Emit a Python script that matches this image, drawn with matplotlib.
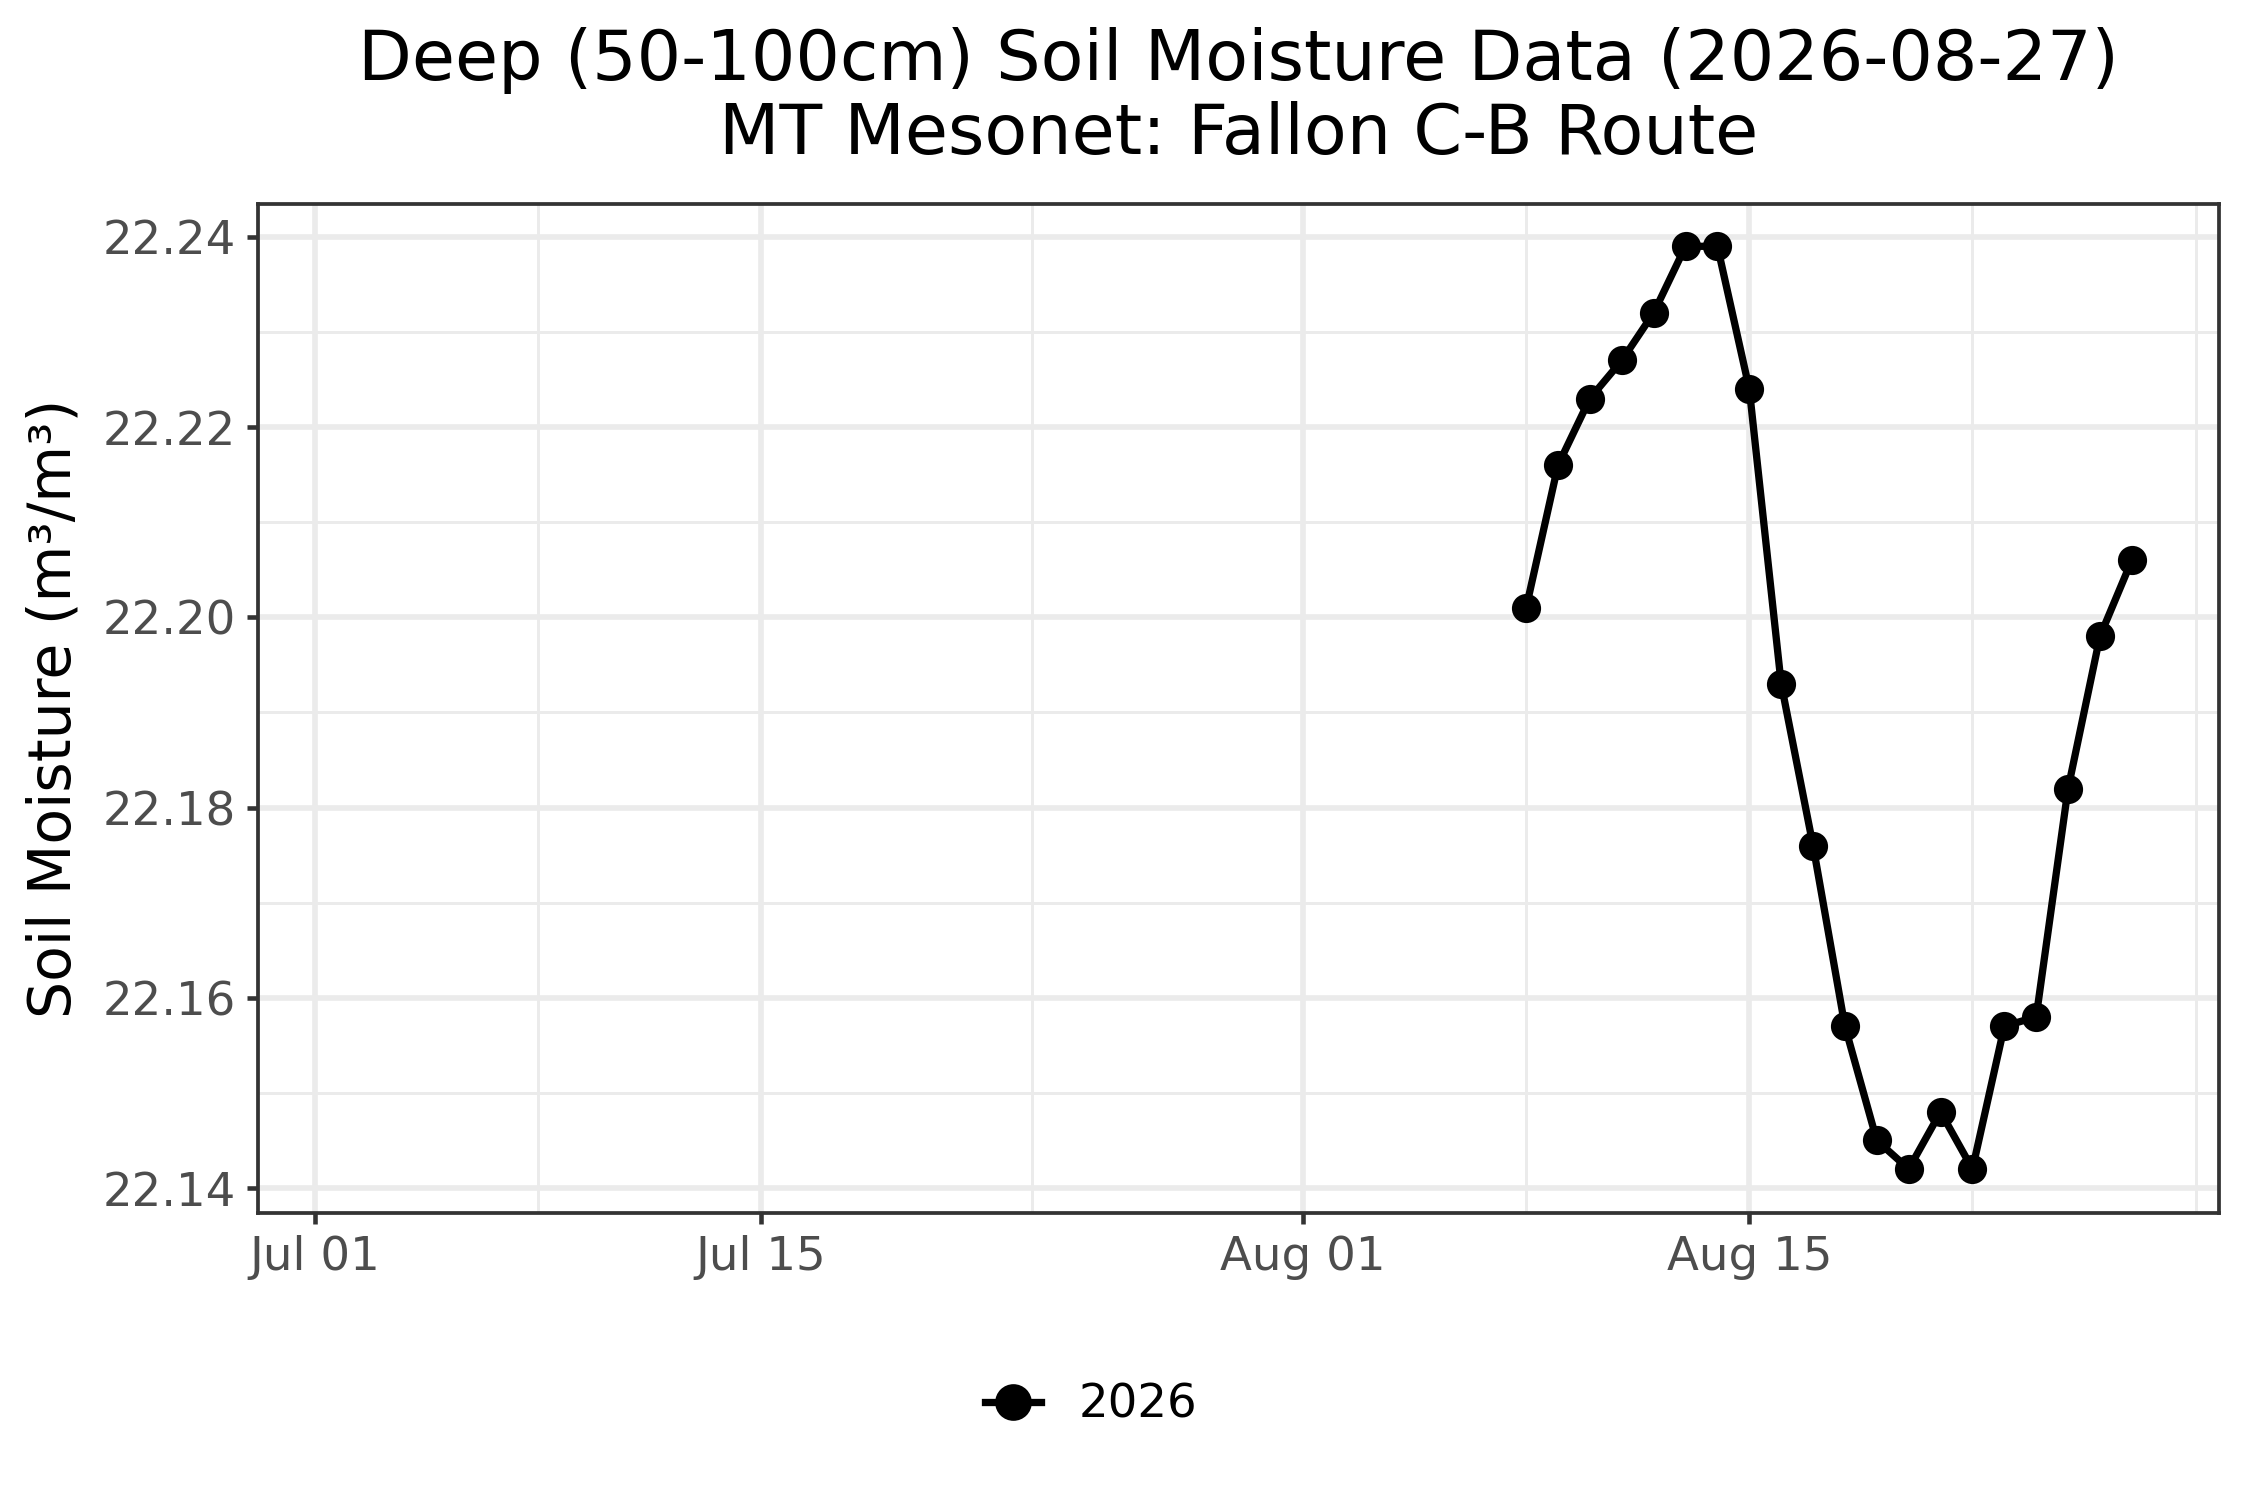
import numpy as np
import matplotlib
matplotlib.use("Agg")
import matplotlib.pyplot as plt
import matplotlib.dates as mdates

# data
dates = ["2026-08-08", "2026-08-09", "2026-08-10", "2026-08-11", "2026-08-12",
         "2026-08-13", "2026-08-14", "2026-08-15", "2026-08-16", "2026-08-17",
         "2026-08-18", "2026-08-19", "2026-08-20", "2026-08-21", "2026-08-22",
         "2026-08-23", "2026-08-24", "2026-08-25", "2026-08-26", "2026-08-27"]
moisture = [22.201, 22.216, 22.223, 22.227, 22.232,
            22.239, 22.239, 22.224, 22.193, 22.176,
            22.157, 22.145, 22.142, 22.148, 22.142,
            22.157, 22.158, 22.182, 22.198, 22.206]
series_label = "2026"

major_dates = ["2026-07-01", "2026-07-15", "2026-08-01", "2026-08-15"]
minor_dates = ["2026-07-08", "2026-07-23T12:00", "2026-08-08", "2026-08-22", "2026-08-29"]
y_major = [22.14, 22.16, 22.18, 22.20, 22.22, 22.24]
y_minor = [22.15, 22.17, 22.19, 22.21, 22.23]

title = "Deep (50-100cm) Soil Moisture Data (2026-08-27)\nMT Mesonet: Fallon C-B Route"
ylabel = "Soil Moisture (m\u00b3/m\u00b3)"

grid_col = "#ebebeb"
text_col = "#4d4d4d"
dark = "#333333"

x = np.array(dates, dtype="datetime64[m]").astype("O")

fig = plt.figure(figsize=(7.5, 5), dpi=300)
ax = fig.add_axes([0.1147, 0.1915, 0.8716, 0.6722])

ax.plot(x, moisture, color="black", lw=1.75, marker="o", ms=6, label=series_label,
        zorder=3, clip_on=False)

# axis limits (ggplot style expansion)
x0 = np.datetime64("2026-07-01T00:00") - np.timedelta64(int(1.78 * 1440), "m")
x1 = np.datetime64("2026-08-29T00:00") + np.timedelta64(int(0.74 * 1440), "m")
ax.set_xlim(x0.astype("O"), x1.astype("O"))
ax.set_ylim(22.1374, 22.2434)

ax.set_xticks(np.array(major_dates, dtype="datetime64[m]").astype("O"))
ax.set_xticks(np.array(minor_dates, dtype="datetime64[m]").astype("O"), minor=True)
ax.xaxis.set_major_formatter(mdates.DateFormatter("%b %d"))
ax.set_yticks(y_major)
ax.set_yticks(y_minor, minor=True)
ax.yaxis.set_major_formatter(matplotlib.ticker.FormatStrFormatter("%.2f"))

ax.grid(which="major", color=grid_col, lw=1.35, zorder=0)
ax.grid(which="minor", color=grid_col, lw=0.7, zorder=0)
ax.set_axisbelow(True)

ax.tick_params(which="major", direction="out", length=2.75, width=1.1, color=dark,
               labelsize=11.2, labelcolor=text_col, pad=2.5)
ax.tick_params(which="minor", length=0)

for sp in ax.spines.values():
    sp.set_color(dark)
    sp.set_linewidth(0.9)

ax.set_ylabel(ylabel, fontsize=14, color="black")
ax.yaxis.set_label_coords(-0.0897, 0.5)

ax.set_title(title, fontsize=16.8, color="black", pad=12, linespacing=1.15)

fig.legend(loc="center", bbox_to_anchor=(0.485, 0.063), frameon=False,
           fontsize=11.2, handlelength=1.2, handletextpad=0.8, markerscale=1.3)

fig.savefig("out.png", dpi=300, facecolor="white")
